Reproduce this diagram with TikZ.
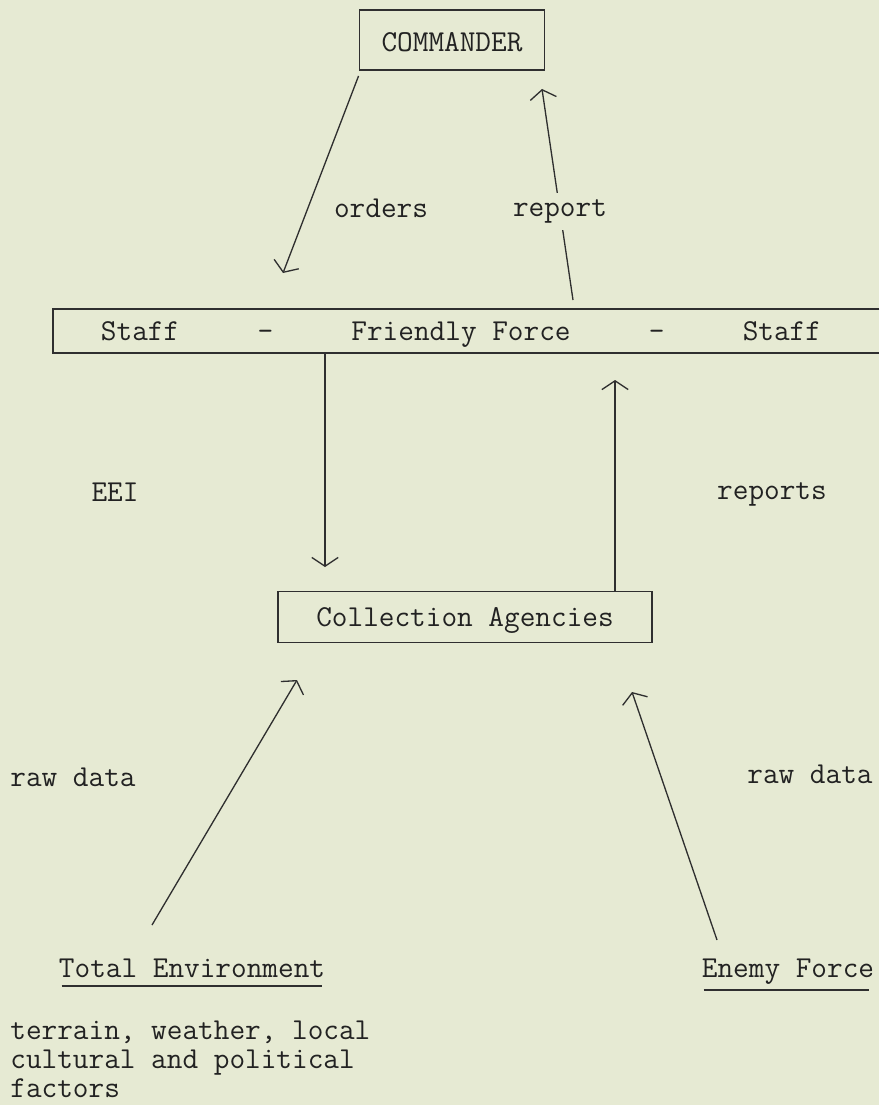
\documentclass[tikz,border=0pt]{standalone}
\usepackage{xcolor}
\definecolor{paper}{HTML}{E6EAD3}
\definecolor{ink}{HTML}{2F2F2F}
\definecolor{type}{HTML}{222222}
\usepackage{tikz}
\usetikzlibrary{arrows.meta, positioning, calc}

\begin{document}
\begin{tikzpicture}[
    x=0.02cm, y=-0.02cm,
    font=\ttfamily\fontsize{17.3}{16.4}\selectfont,
    >={Straight Barb[length=5pt, width=15pt]},
    draw=ink, text=type,
    block/.style={draw=ink, line width=1.1pt, inner sep=0pt, text depth=0pt, align=center},
    flow/.style={->, line width=0.75pt, draw=ink},
    rule/.style={line width=1.1pt, draw=ink}
]

% ── Paper ──
\fill[paper] (0,0) rectangle (879,1105);
\useasboundingbox (0,0) rectangle (879,1105);

% ── Boxes ──
\node[block, minimum width=3.7cm, minimum height=1.2cm, text height=1.3em] (cmd) at (452,40) {COMMANDER};

\node[inner sep=0pt, text depth=0pt, minimum width=16.32cm, minimum height=0.88cm] (staff) at (461,331)
     {Staff~~~~~-~~~~~Friendly Force~~~~~-~~~~~Staff};
\draw[rule] ([xshift=0.2cm]staff.north east) -- (staff.north west) -- (staff.south west) -- ([xshift=0.2cm]staff.south east);

\node[block, minimum width=7.48cm, minimum height=1.02cm] (coll) at (465,617) {Collection Agencies};

% ── Sources ──
\node[inner sep=0pt, anchor=base] (totEnv) at (192,977) {Total Environment};
\node[inner sep=0pt, anchor=base] (enemy) at (788,977) {Enemy Force};
\draw[rule] ([xshift=0.06cm, yshift=-0.18cm]totEnv.base west) -- ([xshift=-0.06cm, yshift=-0.18cm]totEnv.base east);
\draw[rule] ([xshift=0.04cm, yshift=-0.26cm]enemy.base west) -- ([xshift=-0.1cm, yshift=-0.26cm]enemy.base east);

\node[inner sep=0pt, anchor=north west, align=left] (factors) at (10,1021)
     {terrain, weather, local\\cultural and political\\factors};

% ── Labels ──
\node (orders) at (381,208) {orders};
\node (eei) at (115,492) {EEI};
\node (reports) at (772,494) {reports};
\node (rawL) at (73,777) {raw data};
\node (rawR) at (810,774) {raw data};

% ── Free ends ──
\coordinate (ordTip) at (283,273);
\coordinate (rptFoot) at (573,300);
\coordinate (rptTip) at (542,89);
\coordinate (eeiTip) at (325,567);
\coordinate (rptsTip) at (615,380);
\coordinate (envFoot) at (152,925);
\coordinate (envTip) at (297,680);
\coordinate (enemyFoot) at (717,940);
\coordinate (enemyTip) at (632,692);

% ── Routing ──
\draw[flow] ([yshift=-0.1cm]cmd.south west) -- (ordTip);
\draw[flow] (rptFoot) -- node[pos=0.42, fill=paper, inner xsep=2pt, inner ysep=4pt] (report) {report} (rptTip);
\draw[flow] (staff.south -| eeiTip) -- (eeiTip);
\draw[flow] (coll.north -| rptsTip) -- (rptsTip);
\draw[flow] (envFoot) -- (envTip);
\draw[flow] (enemyFoot) -- (enemyTip);

\end{tikzpicture}
\end{document}
